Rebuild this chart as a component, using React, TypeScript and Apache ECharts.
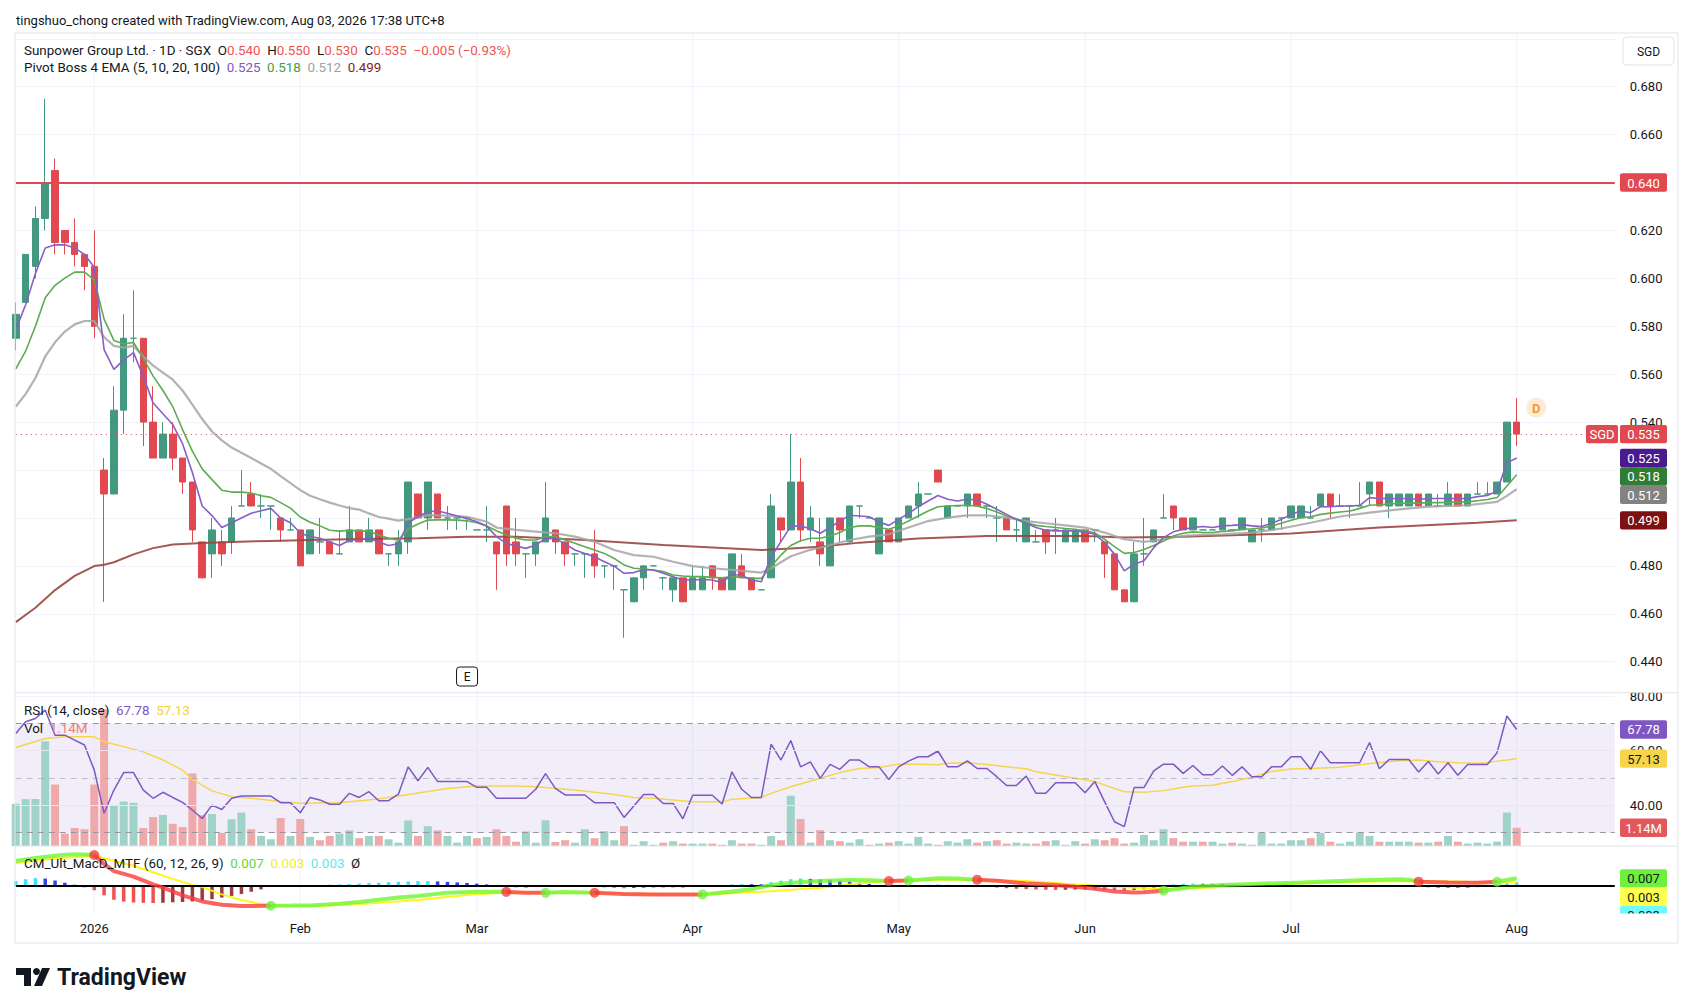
import React, { useEffect, useRef } from "react";
import * as echarts from "echarts";

const W = 1690;
const H = 1008;
const FONT = 'Roboto, "Noto Sans", "DejaVu Sans", sans-serif';

// candles: [open, close, low, high]
const OHLC: number[][] = [
  [0.575,0.585,0.570,0.590],[0.590,0.610,0.590,0.610],[0.605,0.625,0.600,0.630],[0.625,0.640,0.620,0.675],
  [0.645,0.615,0.610,0.650],[0.620,0.615,0.610,0.620],[0.615,0.610,0.605,0.625],[0.610,0.605,0.595,0.610],
  [0.605,0.580,0.575,0.620],[0.520,0.510,0.465,0.525],[0.510,0.545,0.510,0.555],[0.545,0.575,0.535,0.585],
  [0.575,0.575,0.565,0.595],[0.575,0.540,0.530,0.575],[0.540,0.525,0.525,0.555],[0.525,0.535,0.525,0.540],
  [0.535,0.525,0.520,0.540],[0.525,0.515,0.510,0.525],[0.515,0.495,0.490,0.515],[0.490,0.475,0.475,0.490],
  [0.485,0.495,0.475,0.500],[0.490,0.485,0.480,0.495],[0.490,0.500,0.485,0.505],[0.505,0.505,0.505,0.520],
  [0.510,0.505,0.505,0.515],[0.505,0.505,0.500,0.510],[0.505,0.505,0.495,0.505],[0.500,0.495,0.490,0.500],
  [0.495,0.495,0.495,0.500],[0.495,0.480,0.480,0.495],[0.485,0.495,0.485,0.495],[0.490,0.490,0.485,0.500],
  [0.490,0.485,0.485,0.490],[0.485,0.485,0.485,0.495],[0.490,0.495,0.490,0.505],[0.495,0.490,0.490,0.495],
  [0.490,0.495,0.490,0.500],[0.495,0.485,0.485,0.495],[0.485,0.485,0.480,0.485],[0.485,0.490,0.480,0.495],
  [0.490,0.515,0.485,0.515],[0.510,0.500,0.500,0.510],[0.500,0.515,0.495,0.515],[0.510,0.500,0.500,0.510],
  [0.500,0.500,0.495,0.505],[0.500,0.500,0.495,0.500],[0.500,0.500,0.495,0.500],[0.495,0.495,0.495,0.495],
  [0.495,0.495,0.490,0.505],[0.490,0.485,0.470,0.490],[0.505,0.485,0.480,0.505],[0.490,0.485,0.480,0.500],
  [0.485,0.485,0.475,0.485],[0.485,0.490,0.480,0.490],[0.490,0.500,0.490,0.515],[0.495,0.490,0.485,0.495],
  [0.490,0.485,0.480,0.490],[0.485,0.485,0.480,0.485],[0.485,0.485,0.475,0.485],[0.485,0.480,0.475,0.495],
  [0.480,0.480,0.475,0.480],[0.480,0.480,0.470,0.480],[0.470,0.470,0.450,0.470],[0.465,0.475,0.465,0.475],
  [0.475,0.480,0.470,0.480],[0.480,0.480,0.480,0.480],[0.475,0.475,0.470,0.475],[0.470,0.475,0.465,0.475],
  [0.475,0.465,0.465,0.475],[0.470,0.475,0.470,0.480],[0.470,0.475,0.470,0.480],[0.480,0.475,0.470,0.480],
  [0.475,0.470,0.470,0.475],[0.470,0.485,0.470,0.485],[0.480,0.475,0.475,0.485],[0.475,0.470,0.470,0.475],
  [0.470,0.470,0.470,0.470],[0.475,0.505,0.475,0.510],[0.500,0.495,0.490,0.500],[0.495,0.515,0.495,0.535],
  [0.515,0.495,0.490,0.525],[0.495,0.500,0.490,0.505],[0.490,0.485,0.480,0.500],[0.480,0.500,0.480,0.500],
  [0.500,0.495,0.490,0.500],[0.490,0.505,0.490,0.505],[0.505,0.505,0.500,0.505],[0.500,0.500,0.500,0.500],
  [0.485,0.500,0.485,0.500],[0.495,0.490,0.490,0.495],[0.490,0.500,0.490,0.500],[0.500,0.505,0.500,0.505],
  [0.505,0.510,0.500,0.515],[0.510,0.510,0.510,0.510],[0.520,0.515,0.515,0.520],[0.500,0.505,0.500,0.505],
  [0.505,0.505,0.505,0.505],[0.505,0.510,0.500,0.510],[0.510,0.505,0.505,0.510],[0.505,0.505,0.500,0.505],
  [0.500,0.500,0.490,0.505],[0.500,0.495,0.495,0.500],[0.495,0.495,0.490,0.500],[0.490,0.500,0.490,0.500],
  [0.490,0.490,0.490,0.495],[0.495,0.490,0.485,0.495],[0.495,0.495,0.485,0.500],[0.490,0.495,0.490,0.495],
  [0.490,0.495,0.490,0.495],[0.495,0.490,0.490,0.495],[0.495,0.495,0.490,0.495],[0.490,0.485,0.475,0.490],
  [0.485,0.470,0.470,0.485],[0.470,0.465,0.465,0.470],[0.465,0.485,0.465,0.490],[0.485,0.485,0.480,0.500],
  [0.490,0.495,0.490,0.495],[0.500,0.500,0.500,0.510],[0.505,0.500,0.495,0.505],[0.500,0.495,0.495,0.500],
  [0.495,0.500,0.495,0.500],[0.495,0.495,0.495,0.495],[0.495,0.495,0.495,0.495],[0.495,0.500,0.495,0.500],
  [0.495,0.495,0.495,0.495],[0.495,0.500,0.495,0.500],[0.490,0.495,0.490,0.495],[0.495,0.495,0.490,0.500],
  [0.495,0.500,0.495,0.500],[0.500,0.500,0.495,0.500],[0.500,0.505,0.500,0.505],[0.500,0.505,0.500,0.505],
  [0.500,0.500,0.500,0.505],[0.505,0.510,0.505,0.510],[0.510,0.505,0.500,0.510],[0.505,0.505,0.505,0.510],
  [0.505,0.505,0.500,0.505],[0.505,0.505,0.505,0.515],[0.510,0.515,0.505,0.515],[0.515,0.505,0.505,0.515],
  [0.505,0.510,0.500,0.510],[0.505,0.510,0.505,0.510],[0.505,0.510,0.505,0.510],[0.510,0.505,0.505,0.510],
  [0.505,0.510,0.505,0.510],[0.505,0.505,0.505,0.510],[0.505,0.510,0.505,0.515],[0.510,0.505,0.505,0.510],
  [0.505,0.510,0.505,0.510],[0.510,0.510,0.510,0.515],[0.510,0.510,0.510,0.515],[0.510,0.515,0.510,0.515],
  [0.515,0.540,0.515,0.540],[0.540,0.535,0.530,0.550],
];
const FUTURE_BARS = 10;

const VOLUME_M: number[] = [
  2.64,2.93,2.93,6.54,3.84,0.78,1.12,1.05,3.84,8.54,
  2.57,2.78,2.70,1.12,1.81,1.94,1.39,1.18,4.54,1.92,
  2.00,0.82,1.67,2.09,1.05,0.63,0.42,1.75,0.63,1.69,
  0.57,0.36,0.63,0.78,0.97,0.49,0.63,0.63,0.42,0.21,
  1.60,0.63,1.24,0.97,0.63,0.21,0.63,0.49,0.57,1.05,
  0.63,0.27,0.91,0.21,1.61,0.25,0.36,0.21,1.05,0.49,
  0.93,0.36,1.24,0.08,0.30,0.08,0.21,0.30,0.15,0.15,
  0.15,0.15,0.08,0.36,0.15,0.15,0.08,0.63,0.36,3.14,
  1.69,0.21,0.99,0.36,0.30,0.21,0.42,0.08,0.15,0.21,
  0.30,0.15,0.57,0.15,0.08,0.30,0.21,0.42,0.21,0.30,
  0.36,0.15,0.21,0.15,0.15,0.30,0.36,0.08,0.30,0.15,
  0.42,0.36,0.49,0.15,0.21,0.70,0.36,1.05,0.49,0.27,
  0.27,0.27,0.27,0.15,0.21,0.15,0.08,0.82,0.15,0.15,
  0.36,0.36,0.49,0.82,0.27,0.15,0.27,0.82,0.63,0.27,
  0.27,0.27,0.27,0.21,0.21,0.27,0.63,0.27,0.15,0.21,
  0.15,0.27,2.09,1.14,
];

const EMA5: number[] = [
  0.5785,0.589,0.602,0.6127,0.614,0.614,0.6127,0.610,0.6046,0.5703,
  0.562,0.566,0.569,0.559,0.548,0.5435,0.539,0.531,0.519,0.505,
  0.501,0.496,0.498,0.500,0.502,0.503,0.504,0.500,0.498,0.4937,
  0.4922,0.4915,0.490,0.4885,0.4907,0.491,0.4915,0.490,0.4885,0.4892,
  0.498,0.5005,0.5026,0.5029,0.502,0.5008,0.4998,0.4984,0.4966,0.4922,
  0.4894,0.4883,0.4873,0.4887,0.4915,0.4915,0.4891,0.4866,0.4852,0.4838,
  0.4817,0.4799,0.4769,0.4772,0.4785,0.4783,0.4769,0.4755,0.4741,0.4741,
  0.4743,0.4741,0.473,0.4765,0.476,0.4741,0.4734,0.4838,0.4901,0.4966,
  0.4966,0.4955,0.4936,0.496,0.4987,0.5011,0.5008,0.5005,0.4983,0.4969,
  0.4994,0.5019,0.5047,0.5071,0.5094,0.5078,0.5071,0.5078,0.5075,0.5057,
  0.5036,0.5015,0.4994,0.4978,0.496,0.4949,0.4946,0.4946,0.4946,0.4942,
  0.4932,0.4897,0.4849,0.4779,0.4807,0.4821,0.4876,0.4918,0.4942,0.4953,
  0.496,0.4964,0.496,0.4967,0.4969,0.4972,0.4967,0.4964,0.4978,0.4994,
  0.5015,0.5029,0.5022,0.5047,0.5047,0.505,0.505,0.5053,0.5085,0.5081,
  0.5081,0.5081,0.5081,0.5078,0.5081,0.5081,0.5081,0.5081,0.5081,0.5089,
  0.5094,0.5112,0.523,0.525,
];

const EMA10: number[] = [
  0.5622,0.5696,0.580,0.5919,0.5971,0.6001,0.6026,0.6026,0.5994,0.583,
  0.5741,0.5726,0.5733,0.5666,0.5592,0.5532,0.5465,0.5369,0.5279,0.5205,
  0.516,0.5116,0.5108,0.5108,0.5104,0.5093,0.5086,0.5064,0.5041,0.5004,
  0.4982,0.4967,0.4949,0.4945,0.4949,0.4945,0.4945,0.4929,0.4915,0.4907,
  0.4955,0.4975,0.4991,0.4992,0.4992,0.4991,0.4988,0.498,0.4966,0.4947,
  0.4929,0.4915,0.4908,0.4908,0.4922,0.4922,0.4908,0.4894,0.488,0.4866,
  0.4852,0.4831,0.4804,0.479,0.4787,0.4783,0.4776,0.4762,0.4758,0.4755,
  0.4755,0.4752,0.475,0.4755,0.4752,0.4748,0.4748,0.4797,0.4845,0.4885,
  0.4905,0.4915,0.4915,0.4925,0.4939,0.496,0.4967,0.4967,0.496,0.4953,
  0.4967,0.4987,0.5008,0.5029,0.5047,0.505,0.5052,0.5053,0.505,0.5039,
  0.5025,0.5008,0.4997,0.498,0.4969,0.4964,0.496,0.4956,0.4953,0.4946,
  0.4937,0.4911,0.488,0.4852,0.4856,0.4868,0.4885,0.4904,0.4925,0.4936,
  0.4942,0.4939,0.4939,0.4944,0.4946,0.4953,0.4955,0.4958,0.4966,0.4978,
  0.499,0.5001,0.5005,0.5015,0.502,0.5025,0.5029,0.504,0.5053,0.5055,
  0.5058,0.5061,0.5062,0.5062,0.5064,0.5064,0.5065,0.5066,0.5067,0.5072,
  0.5077,0.5085,0.5133,0.518,
];

const EMA20: [number, number][] = [
  [0,0.5465],[1,0.5517],[2,0.5584],[3,0.5674],[4,0.5733],[5,0.5778],[6,0.5808],[7,0.5822],[8,0.5822],
  [9,0.5755],[10,0.5718],[11,0.5711],[12,0.5718],[13,0.5674],[14,0.5636],[15,0.5607],[16,0.5577],
  [17,0.5532],[18,0.5473],[19,0.5413],[20,0.5361],[21,0.5324],[22,0.5294],[23,0.5272],[24,0.525],
  [25,0.5227],[26,0.5205],[27,0.5175],[28,0.5145],[29,0.5116],[30,0.5093],[31,0.5078],[32,0.5064],
  [33,0.5052],[34,0.5041],[35,0.5035],[36,0.5019],[37,0.5004],[38,0.4997],[39,0.4989],[40,0.4995],
  [42,0.5012],[44,0.5010],[46,0.5005],[48,0.4984],[49,0.4960],[51,0.4950],[53,0.4943],[55,0.4936],
  [57,0.4922],[59,0.4901],[61,0.4866],[63,0.4845],[65,0.4838],[67,0.4817],[69,0.4799],[71,0.4790],
  [73,0.4783],[76,0.4772],[77,0.4790],[79,0.4840],[81,0.4867],[83,0.4886],[85,0.4908],[87,0.4922],
  [89,0.4932],[91,0.4960],[93,0.4987],[95,0.5001],[97,0.5011],[99,0.5011],[101,0.5001],[103,0.4987],
  [105,0.4978],[107,0.4969],[109,0.4960],[111,0.4939],[113,0.4911],[115,0.4900],[117,0.4911],
  [119,0.4925],[121,0.4930],[123,0.4932],[126,0.4939],[129,0.4956],[132,0.4980],[135,0.5006],
  [138,0.5022],[141,0.5036],[144,0.5047],[148,0.5053],[151,0.5067],[152,0.5092],[153,0.5120],
];

const EMA100: [number, number][] = [
  [0,0.4565],[2,0.4625],[4,0.4699],[6,0.4758],[8,0.4799],[9,0.4805],[10,0.4815],[12,0.4848],
  [14,0.4874],[16,0.4889],[19,0.4895],[22,0.4900],[26,0.4904],[29,0.4907],[35,0.4912],[41,0.4915],
  [46,0.4922],[51,0.4922],[58,0.4908],[66,0.4887],[72,0.4875],[76,0.4866],[79,0.4872],[82,0.4880],
  [86,0.4897],[92,0.4914],[99,0.4925],[109,0.4925],[113,0.4918],[119,0.4922],[124,0.4928],
  [130,0.4935],[139,0.4960],[149,0.4980],[153,0.4990],
];

const RSI: number[] = [
  66.3,70.6,71.8,74.9,65.7,65.7,63.9,62.1,52.9,37.1,
  45.6,52.0,52.0,45.6,42.6,44.8,42.9,41.1,38.3,35.2,
  40.1,38.5,42.6,43.4,43.4,43.4,43.4,41.0,41.0,37.3,
  42.9,42.0,40.4,40.4,44.4,42.9,45.0,41.7,41.7,44.1,
  54.1,49.0,53.9,48.7,48.7,48.7,48.7,46.6,46.6,42.6,
  42.6,42.6,42.6,45.9,51.6,46.2,43.8,43.8,43.8,41.0,
  41.0,41.0,35.6,39.8,44.0,44.0,40.7,40.7,35.1,43.7,
  43.7,43.7,40.5,52.3,45.9,42.9,42.9,62.4,56.6,63.7,
  54.1,55.9,49.9,55.0,53.2,56.6,56.6,54.1,54.1,49.5,
  54.1,56.2,57.8,57.8,59.9,54.1,54.1,56.3,53.5,53.5,
  50.5,47.3,47.3,50.7,44.4,44.4,48.3,48.3,48.3,44.6,
  48.7,41.3,34.0,32.2,46.5,46.5,52.6,55.1,55.1,51.7,
  54.6,51.2,51.2,54.4,51.0,54.1,50.5,50.5,54.1,54.1,
  57.8,57.8,53.2,60.0,55.6,55.6,55.6,55.6,63.0,53.4,
  56.8,56.8,56.8,52.2,56.1,51.5,55.6,51.0,55.0,55.0,
  55.0,59.3,72.7,67.78,
];

const RSI_MA: [number, number][] = [
  [0,61.2],[3,64.5],[5,65.1],[8,65.1],[9,63.3],[11,61.5],[13,59.6],[15,56.6],[17,52.9],[18,49.5],
  [20,45.3],[22,43.2],[24,42.6],[27,41.4],[29,40.8],[33,41.0],[37,42.3],[40,44.0],[44,46.2],[47,47.1],
  [51,47.1],[53,46.8],[57,45.6],[61,44.0],[63,42.9],[65,42.6],[67,42.0],[69,41.3],[72,41.3],[73,42.2],
  [76,42.9],[77,44.4],[79,46.8],[82,49.9],[84,52.0],[86,53.5],[88,53.9],[90,55.1],[92,55.1],[94,54.9],
  [95,55.4],[97,55.6],[99,55.0],[101,54.1],[103,53.4],[104,52.3],[106,51.1],[108,49.9],[110,48.7],
  [112,46.2],[113,45.0],[115,44.8],[117,45.4],[119,46.6],[120,47.1],[122,47.4],[124,48.7],[126,50.3],
  [128,52.4],[130,53.3],[132,53.5],[135,54.0],[137,54.9],[139,55.7],[141,56.3],[143,56.6],[145,56.0],
  [147,55.6],[149,55.4],[150,55.6],[151,56.2],[152,56.6],[153,57.13],
];

const MACD: [number, number][] = [
  [0,0.0227],[2,0.0255],[4,0.0275],[5,0.0285],[6,0.0288],[7,0.0286],[8,0.0282],[9,0.0200],[10,0.0135],
  [12,0.0085],[14,0.0015],[15,-0.0015],[17,-0.0085],[19,-0.0140],[21,-0.0170],[23,-0.0182],[25,-0.0180],
  [26,-0.0179],[28,-0.0178],[30,-0.0176],[33,-0.0160],[35,-0.0145],[37,-0.0125],[39,-0.0105],[41,-0.0090],
  [44,-0.0060],[47,-0.0053],[50,-0.0053],[52,-0.0062],[54,-0.0062],[56,-0.0055],[59,-0.0061],[62,-0.0072],
  [65,-0.0076],[67,-0.0078],[70,-0.0076],[73,-0.0050],[75,-0.0030],[77,0.0010],[79,0.0030],[82,0.0045],
  [85,0.0055],[87,0.0052],[89,0.0045],[91,0.0050],[94,0.0070],[96,0.0068],[98,0.0058],[100,0.0048],
  [103,0.0024],[106,0.0009],[108,-0.0006],[110,-0.0025],[112,-0.0050],[114,-0.0058],[115,-0.0056],
  [117,-0.0042],[120,-0.0006],[123,0.0009],[126,0.0018],[131,0.0033],[137,0.0052],[141,0.0061],
  [142,0.0058],[143,0.0040],[146,0.0033],[149,0.0030],[151,0.0039],[152,0.0055],[153,0.0070],
];

const SIGNAL: [number, number][] = [
  [0,0.0206],[4,0.0250],[8,0.0276],[10,0.0230],[12,0.0185],[14,0.0125],[16,0.0065],[18,0.0010],
  [19,-0.0010],[21,-0.0076],[23,-0.0127],[25,-0.0165],[26,-0.0175],[28,-0.0182],[31,-0.0182],
  [36,-0.0160],[41,-0.0127],[46,-0.0082],[50,-0.0058],[54,-0.0060],[59,-0.0061],[62,-0.0068],
  [66,-0.0074],[70,-0.0076],[73,-0.0065],[76,-0.0052],[79,-0.0035],[82,-0.0015],[86,0.0024],
  [89,0.0045],[91,0.0048],[94,0.0058],[98,0.0058],[103,0.0045],[108,0.0015],[114,-0.0015],
  [117,-0.0027],[120,-0.0021],[126,0.0003],[131,0.0024],[137,0.0039],[143,0.0045],[148,0.0039],
  [151,0.0036],[153,0.0030],
];

const HIST: number[] = [
  0.0045,0.0062,0.0072,0.0068,0.005,0.003,0.0012,-0.0012,-0.0038,-0.0085,
  -0.0125,-0.0142,-0.015,-0.0153,-0.0155,-0.0152,-0.0148,-0.0145,-0.014,-0.0132,
  -0.012,-0.0105,-0.009,-0.0072,-0.0052,-0.003,0.0002,0.0006,0.0008,0.001,
  0.0008,0.0009,0.0012,0.0015,0.0018,0.0022,0.0026,0.003,0.0035,0.0038,
  0.0042,0.0045,0.0045,0.0042,0.0038,0.0033,0.0028,0.0022,0.0015,0.0006,
  -0.0005,-0.0012,-0.0015,-0.0008,0.0002,0.0004,0.0003,0.0002,0.0001,-0.0006,
  -0.0012,-0.0016,-0.002,-0.0018,-0.0015,-0.0013,-0.0014,-0.0012,-0.0015,-0.0008,
  0.0002,0.0005,0.0006,0.0015,0.0018,0.0017,0.0016,0.0035,0.0048,0.0062,
  0.0068,0.0065,0.006,0.0055,0.0048,0.004,0.003,0.002,0.001,-0.0003,
  -0.0001,0.0004,0.0008,0.0012,0.0014,0.001,0.0008,0.0005,-0.0002,-0.0008,
  -0.0014,-0.002,-0.0025,-0.0028,-0.0032,-0.0034,-0.0035,-0.0034,-0.0032,-0.003,
  -0.0032,-0.0035,-0.0038,-0.004,-0.0036,-0.003,-0.0015,0.0005,0.0015,0.002,
  0.0022,0.0021,0.0019,0.0016,0.0012,0.001,0.0008,0.0006,0.0007,0.0006,
  0.0008,0.0007,0.0009,0.0008,0.0007,0.0009,0.0008,0.0006,0.0007,0.0005,
  0.0006,0.0006,0.0004,-0.0006,-0.0012,-0.0016,-0.0015,-0.0017,-0.0014,-0.001,
  -0.0005,0.0003,0.0025,0.0035,
];

const CROSS_DOWN = [8, 50, 59, 89, 98, 143];
const CROSS_UP = [26, 54, 70, 91, 117, 151];

const X_TICKS: [number, string][] = [
  [8, "2026"], [29, "Feb"], [47, "Mar"], [69, "Apr"], [90, "May"], [109, "Jun"], [130, "Jul"], [153, "Aug"],
];

const RESISTANCE = 0.64;
const LAST_CLOSE = 0.535;
const LAST_EMA = [0.525, 0.518, 0.512, 0.499];
const LAST_RSI = 67.78;
const LAST_RSI_MA = 57.13;
const LAST_VOL = 1.14;
const LAST_MACD = 0.007;
const LAST_SIGNAL = 0.003;
const LAST_HIST = 0.003;
const DIVIDEND: [number, number] = [155, 0.546];
const EARNINGS_IDX = 46;

// styling
const UP = "#42997f";
const DOWN = "#e2484f";
const VOL_UP = "#9fd3c7";
const VOL_DOWN = "#f0a9ab";
const GRID_COLOR = "#f0f3fa";
const TEXT = "#131722";

const GL = 15.8;
const GR = 75.2;

function buildOption(): any {
  const n = OHLC.length + FUTURE_BARS;
  const cats = Array.from({ length: n }, (_, i) => String(i));
  const tickMap = new Map<number, string>(X_TICKS);

  const xAxes = [0, 1, 2, 3].map((g) => ({
    type: "category",
    gridIndex: g,
    data: cats,
    boundaryGap: false,
    axisLine: { show: false },
    axisTick: { show: false },
    splitLine: { show: false },
    axisLabel:
      g === 3
        ? {
            show: true,
            interval: (i: number) => tickMap.has(i),
            formatter: (_v: string, i: number) => tickMap.get(i) ?? "",
            margin: 9,
            fontSize: 13,
            color: TEXT,
            fontFamily: FONT,
          }
        : { show: false },
  }));

  const volData = VOLUME_M.map((v, i) => {
    const [o, c] = OHLC[i];
    const prev = i > 0 ? OHLC[i - 1][1] : o;
    const up = c > o || (c === o && c >= prev);
    return { value: v, itemStyle: { color: up ? VOL_UP : VOL_DOWN } };
  });

  const histData = HIST.map((v, i) => {
    const prev = i > 0 ? HIST[i - 1] : v;
    let color;
    if (v >= 0) color = v >= prev ? "rgba(40,225,255,0.9)" : "rgba(25,45,230,0.9)";
    else color = v <= prev ? "rgba(240,50,50,0.85)" : "rgba(130,10,10,0.8)";
    return { value: v, itemStyle: { color } };
  });

  // MACD line split into bullish / bearish segments at the crossings
  const crosses = [...CROSS_DOWN, ...CROSS_UP].sort((a, b) => a - b);
  const bounds = [0, ...crosses, OHLC.length - 1];
  const macdSegs: any[] = [];
  for (let k = 0; k < bounds.length - 1; k++) {
    const a = bounds[k];
    const b = bounds[k + 1];
    const bear = CROSS_DOWN.includes(a);
    macdSegs.push({
      type: "line",
      xAxisIndex: 3,
      yAxisIndex: 3,
      data: MACD.filter((p) => p[0] >= a && p[0] <= b),
      showSymbol: false,
      lineStyle: { width: 4, color: bear ? "rgba(250,60,60,0.8)" : "rgba(110,245,50,0.8)" },
      z: 5,
      silent: true,
    });
  }
  const macdAt = (i: number) => (MACD.find((p) => p[0] === i) as [number, number])[1];

  return {
    animation: false,
    textStyle: { fontFamily: FONT },
    grid: [
      { left: GL, right: GR, top: 38.8, height: 622.9 },
      { left: GL, right: GR, top: 696.1, height: 136.6 },
      { left: GL, right: GR, top: 692.7, height: 153.3 },
      { left: GL, right: GR, top: 846, height: 67.3 },
    ],
    xAxis: xAxes,
    yAxis: [
      {
        type: "value",
        gridIndex: 0,
        min: 0.44,
        max: 0.7,
        interval: 0.02,
        position: "right",
        axisLine: { show: false },
        axisTick: { show: false },
        splitLine: { show: true, lineStyle: { color: GRID_COLOR, width: 1 } },
        axisLabel: {
          margin: 15,
          fontSize: 13,
          color: TEXT,
          fontFamily: FONT,
          formatter: (v: number) => (v > 0.695 ? "" : v.toFixed(3)),
        },
      },
      {
        type: "value",
        gridIndex: 1,
        min: 30,
        max: 80,
        interval: 10,
        position: "right",
        axisLine: { show: false },
        axisTick: { show: false },
        splitLine: { show: false },
        axisLabel: {
          margin: 15,
          fontSize: 13,
          color: TEXT,
          fontFamily: FONT,
          formatter: (v: number) => (Math.round(v) % 20 === 0 ? v.toFixed(2) : ""),
        },
      },
      { type: "value", gridIndex: 2, min: 0, max: 9.58, show: false },
      { type: "value", gridIndex: 3, min: -0.0248, max: 0.0364, show: false },
    ],
    series: [
      {
        type: "candlestick",
        xAxisIndex: 0,
        yAxisIndex: 0,
        data: OHLC,
        barWidth: 7,
        z: 3,
        itemStyle: {
          color: UP,
          color0: DOWN,
          borderColor: UP,
          borderColor0: DOWN,
          borderColorDoji: UP,
          borderWidth: 1,
        },
        markLine: {
          silent: true,
          precision: 4,
          symbol: ["none", "none"],
          label: { show: false },
          data: [
            { yAxis: RESISTANCE, lineStyle: { color: DOWN, width: 2, type: "solid" } },
            { yAxis: LAST_CLOSE, lineStyle: { color: DOWN, width: 1, type: [1, 4] } },
          ],
        },
      },
      {
        type: "line", name: "EMA100", xAxisIndex: 0, yAxisIndex: 0, data: EMA100, showSymbol: false, z: 4,
        lineStyle: { color: "rgba(155,70,64,0.9)", width: 2 }, silent: true,
      },
      {
        type: "line", name: "EMA20", xAxisIndex: 0, yAxisIndex: 0, data: EMA20, showSymbol: false, z: 4,
        lineStyle: { color: "rgba(165,165,165,0.85)", width: 2.2 }, silent: true,
      },
      {
        type: "line", name: "EMA10", xAxisIndex: 0, yAxisIndex: 0, data: EMA10, showSymbol: false, z: 4,
        lineStyle: { color: "#5dab52", width: 1.6 }, silent: true,
      },
      {
        type: "line", name: "EMA5", xAxisIndex: 0, yAxisIndex: 0, data: EMA5, showSymbol: false, z: 4,
        lineStyle: { color: "#8660c5", width: 1.6 }, silent: true,
      },
      // RSI band + levels (invisible carrier line)
      {
        type: "line",
        xAxisIndex: 1,
        yAxisIndex: 1,
        data: RSI,
        showSymbol: false,
        lineStyle: { opacity: 0 },
        z: 1,
        silent: true,
        markArea: {
          silent: true,
          itemStyle: { color: "rgba(126,87,194,0.1)" },
          data: [[{ yAxis: 30 }, { yAxis: 70 }]],
        },
        markLine: {
          silent: true,
          precision: 4,
          symbol: ["none", "none"],
          label: { show: false },
          data: [
            { yAxis: 40, lineStyle: { color: "#e9e6f2", width: 1, type: "solid" } },
            { yAxis: 60, lineStyle: { color: "#e9e6f2", width: 1, type: "solid" } },
            { yAxis: 80, lineStyle: { color: GRID_COLOR, width: 1, type: "solid" } },
            { yAxis: 70, lineStyle: { color: "#9598a1", width: 1, type: [6, 5] } },
            { yAxis: 50, lineStyle: { color: "rgba(149,152,161,0.55)", width: 1, type: [6, 5] } },
            { yAxis: 30, lineStyle: { color: "#9598a1", width: 1, type: [6, 5] } },
          ],
        },
      },
      {
        type: "bar",
        xAxisIndex: 2,
        yAxisIndex: 2,
        data: volData,
        barWidth: 8,
        z: 2,
        silent: true,
      },
      {
        type: "line", xAxisIndex: 1, yAxisIndex: 1, data: RSI_MA, showSymbol: false, z: 3,
        lineStyle: { color: "#f6d44e", width: 1.5 }, silent: true,
      },
      {
        type: "line", xAxisIndex: 1, yAxisIndex: 1, data: RSI, showSymbol: false, z: 3,
        lineStyle: { color: "#7e57c2", width: 1.5 }, silent: true,
      },
      {
        type: "bar",
        xAxisIndex: 3,
        yAxisIndex: 3,
        data: histData,
        barWidth: 3.5,
        z: 2,
        silent: true,
      },
      {
        type: "line",
        xAxisIndex: 3,
        yAxisIndex: 3,
        data: SIGNAL,
        showSymbol: false,
        z: 3,
        silent: true,
        lineStyle: { color: "rgba(255,245,0,0.9)", width: 2 },
        markLine: {
          silent: true,
          precision: 6,
          symbol: ["none", "none"],
          label: { show: false },
          data: [{ yAxis: 0, lineStyle: { color: "#000", width: 2, type: "solid" } }],
        },
      },
      ...macdSegs,
      {
        type: "scatter",
        xAxisIndex: 3,
        yAxisIndex: 3,
        symbolSize: 10,
        z: 6,
        silent: true,
        data: [
          ...CROSS_DOWN.map((i) => ({ value: [i, macdAt(i)], itemStyle: { color: "rgba(245,55,55,0.95)" } })),
          ...CROSS_UP.map((i) => ({ value: [i, macdAt(i)], itemStyle: { color: "rgba(110,240,60,0.95)" } })),
        ],
      },
    ],
  };
}

function buildGraphic(chart: any): any[] {
  const P = (grid: number, x: number, y: number) => chart.convertToPixel({ gridIndex: grid }, [x, y]) as number[];
  const g: any[] = [];
  const font = (size: number, weight = "normal") => `${weight} ${size}px ${FONT}`;
  const LF = 13.4;
  const text = (x: number, y: number, t: string, fill: string, size = 13, extra: any = {}, z = 70) => ({
    type: "text",
    x,
    y,
    z,
    silent: true,
    style: { text: t, fill, font: font(size), align: "left", verticalAlign: "middle", ...extra },
  });

  // vertical grid lines through all panes
  for (const [i] of X_TICKS) {
    const x = P(0, i, 0.5)[0];
    g.push({ type: "line", z: 0, silent: true, shape: { x1: x, y1: 33, x2: x, y2: 913.3 }, style: { stroke: GRID_COLOR, lineWidth: 1 } });
  }

  // frame + pane separators
  g.push({ type: "rect", z: 80, silent: true, shape: { x: 15, y: 33, width: 1663, height: 910 }, style: { fill: "none", stroke: "#e0e3eb", lineWidth: 1 } });
  // covers for axis-label overflow
  g.push({ type: "rect", z: 50, silent: true, shape: { x: 1619, y: 671, width: 58, height: 21.5 }, style: { fill: "#fff" } });
  g.push({ type: "rect", z: 65, silent: true, shape: { x: 1619, y: 913.6, width: 58, height: 28.8 }, style: { fill: "#fff" } });
  for (const y of [692.7, 846]) {
    g.push({ type: "line", z: 80, silent: true, shape: { x1: 15, y1: y, x2: 1678, y2: y }, style: { stroke: "#e0e3eb", lineWidth: 1 } });
  }

  // label boxes on the price scale
  const BX = 1620;
  const BW = 47;
  const BH = 18.4;
  const box = (x: number, top: number, w: number, fill: string, t: string, color: string, z = 60) => {
    g.push({ type: "rect", z, silent: true, shape: { x, y: top, width: w, height: BH, r: 2 }, style: { fill } });
    g.push({
      type: "text", z: z + 1, silent: true, x: x + w / 2, y: top + BH / 2 + 0.5,
      style: { text: t, fill: color, font: font(13), align: "center", verticalAlign: "middle" },
    });
  };
  const stack = (items: { y: number; fill: string; t: string; color: string }[]) => {
    const sorted = [...items].sort((a, b) => a.y - b.y);
    let bottom = -Infinity;
    return sorted.map((it) => {
      const top = Math.max(it.y - BH / 2, bottom);
      bottom = top + BH;
      return { ...it, top };
    });
  };

  box(BX, P(0, 0, RESISTANCE)[1] - BH / 2, BW, DOWN, RESISTANCE.toFixed(3), "#fff");
  const mainItems = stack([
    { y: P(0, 0, LAST_CLOSE)[1], fill: DOWN, t: LAST_CLOSE.toFixed(3), color: "#fff" },
    { y: P(0, 0, LAST_EMA[0])[1], fill: "#4a1a8e", t: LAST_EMA[0].toFixed(3), color: "#fff" },
    { y: P(0, 0, LAST_EMA[1])[1], fill: "#2f7d32", t: LAST_EMA[1].toFixed(3), color: "#fff" },
    { y: P(0, 0, LAST_EMA[2])[1], fill: "#828282", t: LAST_EMA[2].toFixed(3), color: "#fff" },
    { y: P(0, 0, LAST_EMA[3])[1], fill: "#7d1010", t: LAST_EMA[3].toFixed(3), color: "#fff" },
  ]);
  for (const it of mainItems) {
    box(BX, it.top, BW, it.fill, it.t, it.color);
    if (it.t === LAST_CLOSE.toFixed(3)) box(1586, it.top, 32, DOWN, "SGD", "#fff");
  }

  box(BX, P(1, 0, LAST_RSI)[1] - BH / 2, BW, "#7e57c2", LAST_RSI.toFixed(2), "#fff");
  box(BX, P(1, 0, LAST_RSI_MA)[1] - BH / 2, BW, "#f7d54a", LAST_RSI_MA.toFixed(2), TEXT);
  box(BX, P(2, 0, LAST_VOL)[1] - BH / 2, BW, "#e0585c", LAST_VOL.toFixed(2) + "M", "#fff");

  const macdItems = stack([
    { y: P(3, 0, LAST_MACD)[1], fill: "#6ff03c", t: LAST_MACD.toFixed(3), color: TEXT },
    { y: P(3, 0, LAST_SIGNAL)[1] + 0.1, fill: "#ffff4d", t: LAST_SIGNAL.toFixed(3), color: TEXT },
    { y: P(3, 0, LAST_HIST)[1] + 0.2, fill: "#6ff8ff", t: LAST_HIST.toFixed(3), color: TEXT },
  ]);
  for (const it of macdItems) box(BX, it.top, BW, it.fill, it.t, it.color, 55);

  // currency button
  g.push({ type: "rect", z: 70, silent: true, shape: { x: 1623, y: 37, width: 51, height: 28, r: 4 }, style: { fill: "#fff", stroke: "#e0e3eb", lineWidth: 1 } });
  g.push(text(1648.5, 51.5, "SGD", TEXT, 12, { align: "center" }));

  // header and legends
  g.push(text(16, 20, "tingshuo_chong created with TradingView.com, Aug 03, 2026 17:38 UTC+8", TEXT, 13));
  const rs = (c: string) => ({ fill: c, color: c, font: font(LF) });
  const rich = {
    n: rs(TEXT),
    r: rs("#ef5350"),
    p: rs("#7e57c2"),
    g: rs("#43a047"),
    s: rs("#a0a0a0"),
    m: rs("#8b1a1a"),
    y: rs("#f2cf45"),
    v: rs("#ef7f7f"),
    lg: rs("#5fd83a"),
    ly: rs("#eeee30"),
    lc: rs("#4fefef"),
  };
  const legend = (x: number, y: number, t: string) => g.push(text(x, y, t, TEXT, LF, { rich }));
  legend(24, 50, "{n|Sunpower Group Ltd. · 1D · SGX}  {n|O}{r|0.540}  {n|H}{r|0.550}  {n|L}{r|0.530}  {n|C}{r|0.535}  {r|−0.005 (−0.93%)}");
  legend(24, 67, "{n|Pivot Boss 4 EMA (5, 10, 20, 100)}  {p|0.525}  {g|0.518}  {s|0.512}  {m|0.499}");
  legend(24, 710, "{n|RSI (14, close)}  {p|67.78}  {y|57.13}");
  legend(24, 728, "{n|Vol}  {v|1.14M}");
  legend(24, 863, "{n|CM_Ult_MacD_MTF (60, 12, 26, 9)}  {lg|0.007}  {ly|0.003}  {lc|0.003}  {n|Ø}");

  // dividend marker
  const [dx, dy] = P(0, DIVIDEND[0], DIVIDEND[1]);
  g.push({ type: "circle", z: 70, silent: true, shape: { cx: dx, cy: dy, r: 10 }, style: { fill: "#fdebd3" } });
  g.push({ type: "text", z: 71, silent: true, x: dx, y: dy + 0.5, style: { text: "D", fill: "#f39a2e", font: font(13, "bold"), align: "center", verticalAlign: "middle" } });

  // earnings marker
  const ex = P(0, EARNINGS_IDX, 0.5)[0];
  g.push({ type: "rect", z: 70, silent: true, shape: { x: ex - 10.5, y: 667, width: 21, height: 19, r: 3 }, style: { fill: "#fff", stroke: TEXT, lineWidth: 1 } });
  g.push({ type: "text", z: 71, silent: true, x: ex, y: 677, style: { text: "E", fill: TEXT, font: font(12), align: "center", verticalAlign: "middle" } });

  // TradingView logo
  g.push({ type: "polygon", z: 70, silent: true, shape: { points: [[16, 968], [31, 968], [31, 986], [24, 986], [24, 975], [16, 975]] }, style: { fill: TEXT } });
  g.push({ type: "circle", z: 70, silent: true, shape: { cx: 36.5, cy: 971.5, r: 3.5 }, style: { fill: TEXT } });
  g.push({ type: "polygon", z: 70, silent: true, shape: { points: [[42, 968], [50, 968], [42, 986], [34, 986]] }, style: { fill: TEXT } });
  g.push({ type: "text", z: 70, silent: true, x: 57, y: 977.5, style: { text: "TradingView", fill: TEXT, font: font(23, "bold"), align: "left", verticalAlign: "middle" } });

  return g;
}

export default function App() {
  const ref = useRef<HTMLDivElement>(null);
  useEffect(() => {
    if (!ref.current) return;
    const chart = echarts.init(ref.current, undefined, { renderer: "svg" });
    chart.setOption(buildOption());
    chart.setOption({ graphic: buildGraphic(chart) });
    return () => chart.dispose();
  }, []);
  return (
    <div
      ref={ref}
      style={{ position: "fixed", left: 0, top: 0, width: W, height: H, background: "#fff" }}
    />
  );
}
